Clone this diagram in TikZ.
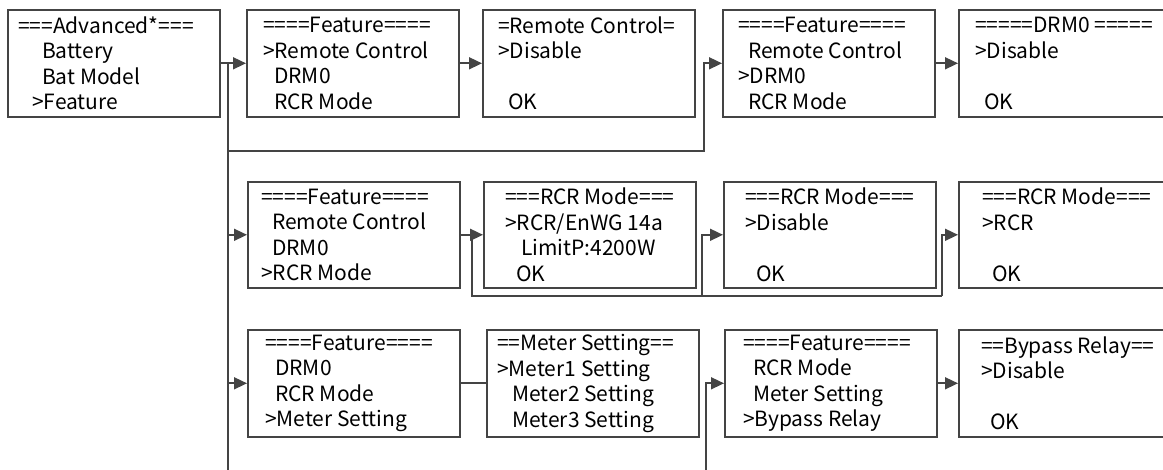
\documentclass[tikz,border=0pt]{standalone}
\usepackage{fontspec}
\setmainfont{Noto Sans CJK SC}
\usetikzlibrary{arrows.meta,calc}
\definecolor{linec}{HTML}{444444}
\begin{document}
\begin{tikzpicture}[x=1pt,y=-1pt,
  screen/.style={draw=linec, line width=1.6pt, rectangle, anchor=north west, inner sep=0pt, minimum width=212pt, minimum height=107pt},
  screenb/.style={screen, minimum height=106pt},
  txt/.style={anchor=west, inner sep=0pt, align=left, font=\fontsize{21}{25.5}\selectfont},
  conn/.style={draw=linec, line width=1.6pt},
  arr/.style={conn, -{Triangle[length=13pt,width=12pt]}}]
\clip (0,0) rectangle (1163,470);
% row 1
\node[screen] (A) at (7,9) {};
\node[txt] (At) at ([xshift=11pt]A.west) {===Advanced*===\\\hspace*{24pt}Battery\\\hspace*{24pt}Bat Model\\\hspace*{14pt}>Feature};
\node[screen] (B) at (246,9) {};
\node[txt] (Bt) at ([xshift=17pt]B.west) {====Feature====\\>Remote Control\\\hspace*{11pt}DRM0\\\hspace*{11pt}RCR Mode};
\node[screen] (C) at (482,9) {};
\node[txt] (Ct) at ([xshift=16pt]C.west) {=Remote Control=\\>Disable\\[25.5pt]\hspace*{10pt}OK};
\node[screen] (D) at (722,9) {};
\node[txt] (Dt) at ([xshift=16pt]D.west) {====Feature====\\\hspace*{10pt}Remote Control\\>DRM0\\\hspace*{10pt}RCR Mode};
\node[screen] (E) at (958,9) {};
\node[txt] (Et) at ([xshift=17pt]E.west) {=====DRM0 =====\\>Disable\\[25.5pt]\hspace*{9pt}OK};
% row 2
\node[screenb] (F) at (247,181) {};
\node[txt] (Ft) at ([xshift=14pt]F.west) {====Feature====\\\hspace*{11pt}Remote Control\\\hspace*{11pt}DRM0\\>RCR Mode};
\node[screenb] (G) at (483,181) {};
\node[txt] (Gt) at ([xshift=22pt]G.west) {===RCR Mode===\\>RCR/EnWG 14a\\\hspace*{16pt}LimitP:4200W\\\hspace*{11pt}OK};
\node[screenb] (H) at (723,181) {};
\node[txt] (Ht) at ([xshift=22pt]H.west) {===RCR Mode===\\>Disable\\[25.5pt]\hspace*{11pt}OK};
\node[screenb] (I) at (958,181) {};
\node[txt] (It) at ([xshift=24pt]I.west) {===RCR Mode===\\>RCR\\[25.5pt]\hspace*{10pt}OK};
% row 3
\node[screen] (J) at (247,329) {};
\node[txt] (Jt) at ([xshift=18pt]J.west) {====Feature====\\\hspace*{10pt}DRM0\\\hspace*{10pt}RCR Mode\\>Meter Setting};
\node[screen] (K) at (486,329) {};
\node[txt] (Kt) at ([xshift=11pt]K.west) {==Meter Setting==\\>Meter1 Setting\\\hspace*{15pt}Meter2 Setting\\\hspace*{15pt}Meter3 Setting};
\node[screen] (L) at (724,329) {};
\node[txt] (Lt) at ([xshift=19pt]L.west) {====Feature====\\\hspace*{10pt}RCR Mode\\\hspace*{10pt}Meter Setting\\>Bypass Relay};
\node[screen] (M) at (958,329) {};
\node[txt] (Mt) at ([xshift=23pt]M.west) {==Bypass Relay==\\>Disable\\[25.5pt]\hspace*{9pt}OK};
% connectors
\coordinate (b1) at (228,470);
\draw[conn] (A.east -| b1) -- (b1);
\draw[arr] (A.east) -- (B.west);
\draw[arr] (B.east) -- (C.west);
\coordinate (t1) at (228,151);
\coordinate (d1) at (704,151);
\draw[arr] (t1) -- (d1) |- (D.west);
\draw[arr] (D.east) -- (E.west);
\draw[arr] (F.west -| b1) -- (F.west);
\draw[arr] (F.east) -- (G.west);
\coordinate (lb) at (472,296);
\coordinate (lh) at (702,296);
\coordinate (li) at (942,296);
\draw[conn] (G.west -| lb) -- (lb) -- (li);
\draw[arr] (lh) |- (H.west);
\draw[arr] (li) |- (I.west);
\draw[arr] (J.west -| b1) -- (J.west);
\draw[conn] (J.east) -- (K.west);
\coordinate (b2) at (706,470);
\draw[arr] (b2) |- (L.west);
\draw[arr] (L.east) -- (M.west);
\end{tikzpicture}
\end{document}
